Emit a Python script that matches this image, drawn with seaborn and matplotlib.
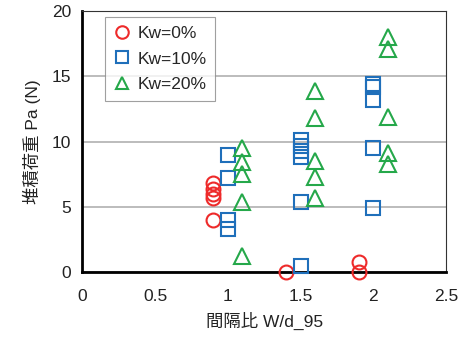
import matplotlib
matplotlib.use("Agg")
import matplotlib.pyplot as plt
import seaborn as sns
import pandas as pd

# Data
x_kw0 = [0.9, 0.9, 0.9, 0.9, 0.9, 1.4, 1.9, 1.9]
y_kw0 = [6.8, 6.4, 6.0, 5.7, 4.0, 0.0, 0.8, 0.0]
x_kw10 = [1.0, 1.0, 1.0, 1.0, 1.5, 1.5, 1.5, 1.5, 1.5, 1.5, 2.0, 2.0, 2.0, 2.0, 2.0]
y_kw10 = [9.0, 7.2, 4.0, 3.3, 10.1, 9.7, 9.3, 8.8, 5.4, 0.45, 14.45, 14.15, 13.2, 9.5, 4.9]
x_kw20 = [1.1, 1.1, 1.1, 1.1, 1.1, 1.6, 1.6, 1.6, 1.6, 1.6, 2.1, 2.1, 2.1, 2.1, 2.1]
y_kw20 = [9.5, 8.4, 7.5, 5.4, 1.2, 13.9, 11.8, 8.5, 7.3, 5.7, 18.0, 17.1, 11.9, 9.1, 8.3]
series_labels = ["Kw=0%", "Kw=10%", "Kw=20%"]
x_ticks = [0, 0.5, 1, 1.5, 2, 2.5]
x_tick_labels = ["0", "0.5", "1", "1.5", "2", "2.5"]
y_ticks = [0, 5, 10, 15, 20]

df = pd.concat([
    pd.DataFrame({"x": x_kw0, "y": y_kw0, "s": series_labels[0]}),
    pd.DataFrame({"x": x_kw10, "y": y_kw10, "s": series_labels[1]}),
    pd.DataFrame({"x": x_kw20, "y": y_kw20, "s": series_labels[2]}),
])

sns.set_style("white")
plt.rcParams['font.family'] = ['Liberation Sans', 'Noto Sans CJK JP', 'DejaVu Sans']

fig = plt.figure(figsize=(4.6, 3.38), dpi=100)
ax = fig.add_axes([0.179, 0.195, 0.791, 0.772])

colors = {"Kw=0%": "#ee2a2a", "Kw=10%": "#1f6fba", "Kw=20%": "#25a84a"}
markers = {"Kw=0%": "o", "Kw=10%": "s", "Kw=20%": "^"}

for lab in series_labels:
    sub = df[df["s"] == lab]
    ax.plot(sub["x"], sub["y"], linestyle="none", marker=markers[lab],
            markersize=10 if lab != "Kw=20%" else 11,
            markerfacecolor="none", markeredgecolor=colors[lab],
            markeredgewidth=1.5, label=lab, clip_on=False, zorder=3)

ax.set_xlim(0, 2.5)
ax.set_ylim(0, 20)
ax.set_xticks(x_ticks)
ax.set_xticklabels(x_tick_labels)
ax.set_yticks(y_ticks)
ax.yaxis.grid(True, color="#b0b0b0", linewidth=1.2)
ax.xaxis.grid(False)
ax.set_axisbelow(True)

for side in ["left", "bottom"]:
    ax.spines[side].set_color("black")
    ax.spines[side].set_linewidth(2)
for side in ["top", "right"]:
    ax.spines[side].set_color("#333333")
    ax.spines[side].set_linewidth(0.8)

ax.tick_params(axis="both", direction="in", length=4, width=0.8, color="#555555",
               labelsize=12.5, labelcolor="#222222")
ax.tick_params(axis="x", pad=12)
ax.tick_params(axis="y", pad=8)

ax.set_xlabel("間隔比 W/d_95", fontsize=12.5, color="#222222", labelpad=6)
ax.set_ylabel("堆積荷重 Pa (N)", fontsize=12.5, color="#222222", labelpad=8)

leg = ax.legend(loc="upper left", bbox_to_anchor=(0.048, 0.997), fontsize=12.5,
                frameon=True, fancybox=False, edgecolor="#888888",
                handletextpad=0.35, borderpad=0.5, labelspacing=0.6,
                handlelength=1.0, borderaxespad=0.3)
leg.get_frame().set_linewidth(0.8)
for h in leg.legend_handles:
    h.set_markersize(9)

fig.savefig("out.png", dpi=100, facecolor="white")
